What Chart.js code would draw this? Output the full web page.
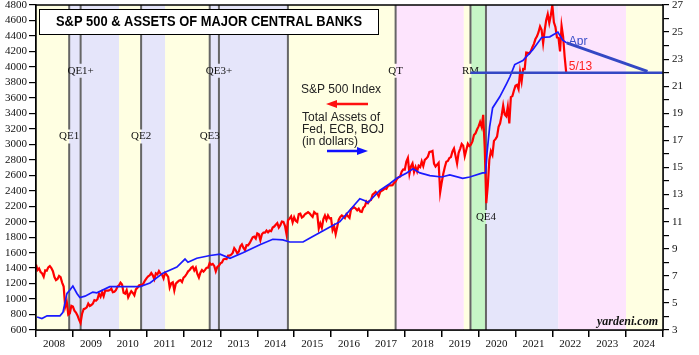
<!DOCTYPE html>
<html>
<head>
<meta charset="utf-8">
<script src="https://cdn.jsdelivr.net/npm/chart.js@4.4.1/dist/chart.umd.min.js"></script>
<style>
html,body{margin:0;padding:0;background:#fff;}
canvas{display:block;}
</style>
</head>
<body>
<canvas id="c" width="699" height="355"></canvas>
<script>
// ---------- DATA ----------
const titleText = "S&P 500 & ASSETS OF MAJOR CENTRAL BANKS";
const yearTicks = ["2008","2009","2010","2011","2012","2013","2014","2015","2016","2017","2018","2019","2020","2021","2022","2023","2024"];

// S&P 500, semi-monthly readings starting Jan 2008
const spxStart = 2008;
const spxPerYear = 24;
const spxValues = [
 1447,1374,1395,1349,1331,1288,1370,1365,1409,1425,1400,1360,1284,1245,1260,1298,1282,1213,1161,900,968,800,816,913,
 903,850,826,789,735,690,811,869,877,893,942,911,923,940,987,979,998,1068,1029,1087,1036,1109,1108,1109,
 1115,1136,1089,1094,1115,1159,1178,1211,1187,1080,1070,1115,1022,1065,1101,1079,1049,1125,1146,1176,1184,1178,1206,1242,
 1271,1293,1307,1336,1306,1257,1332,1319,1361,1330,1315,1267,1339,1316,1286,1150,1204,1216,1110,1200,1218,1236,1244,1219,
 1277,1293,1324,1358,1374,1404,1419,1370,1405,1325,1278,1342,1374,1353,1376,1405,1406,1465,1444,1454,1428,1359,1416,1430,
 1462,1472,1513,1520,1518,1561,1562,1574,1597,1658,1631,1590,1614,1682,1706,1661,1633,1697,1695,1721,1761,1798,1806,1781,
 1848,1838,1760,1838,1859,1858,1885,1862,1884,1877,1924,1937,1960,1981,1925,1955,2003,1998,1946,1840,2018,2039,2068,1990,
 2058,2011,1995,2097,2104,2053,2068,2096,2108,2122,2107,2084,2063,2124,2104,2102,1913,1978,1920,2033,2079,2023,2080,2043,
 2044,1890,1940,1840,1932,2027,2060,2080,2065,2047,2097,2071,2050,2161,2173,2186,2171,2147,2168,2132,2126,2180,2199,2262,
 2239,2270,2279,2349,2364,2385,2363,2328,2384,2400,2412,2432,2423,2459,2470,2468,2472,2500,2519,2557,2575,2585,2648,2676,
 2674,2776,2824,2620,2714,2752,2641,2706,2648,2722,2705,2779,2718,2798,2816,2840,2902,2905,2914,2750,2712,2737,2760,2380,
 2507,2616,2704,2775,2784,2822,2834,2907,2946,2850,2752,2889,2942,3004,2980,2847,2926,3007,2977,2995,3038,3120,3141,3191,
 3231,3289,3226,3380,2954,2240,2470,2800,2912,2864,3044,3066,3100,3226,3271,3373,3500,3385,3363,3483,3270,3610,3622,3695,
 3756,3768,3714,3932,3811,3975,3973,4185,4181,4173,4204,4255,4298,4360,4395,4448,4523,4480,4308,4471,4605,4682,4567,4668,
 4796,4577,4516,4380,4374,4200,4530,4392,4132,3930
];

// Total assets of Fed, ECB, BOJ (trillion dollars)
const bankDates = [2008.03,2008.16,2008.30,2008.65,2008.73,2008.84,2008.92,2009.00,2009.11,2009.19,2009.33,2009.54,2009.65,
 2010.00,2010.28,2010.82,2011.09,2011.44,2011.82,2012.04,2012.12,2012.36,2012.72,2012.99,2013.26,2013.61,2014.07,2014.42,
 2014.69,2014.88,2015.24,2015.43,2015.70,2015.97,2016.24,2016.59,2016.78,2016.92,2017.00,2017.32,2017.59,2017.78,2018.05,
 2018.22,2018.41,2018.68,2019.00,2019.22,2019.57,2019.76,2020.11,2020.19,2020.23,2020.30,2020.38,2020.57,2020.76,2020.85,
 2020.98,2021.20,2021.47,2021.71,2021.93,2022.15,2022.28,2022.39];
const bankValues = [3.96,3.85,4.05,4.05,4.3,5.7,5.95,6.25,5.7,5.4,5.5,5.8,5.75,
 6.2,6.2,6.2,6.47,7.2,7.65,8.24,8.0,8.3,8.5,8.6,8.3,8.7,9.3,9.7,
 9.65,9.5,9.5,9.8,10.2,10.6,11.0,12.1,12.7,12.55,12.4,13.3,13.8,14.2,14.6,
 14.9,14.6,14.4,14.3,14.45,14.2,14.3,14.6,14.6,16.1,18.0,19.4,20.2,21.2,21.7,
 22.6,22.9,23.7,24.6,24.65,25.0,24.4,24.2];

// April projection and reference level (right axis)
const projDates = [2022.39, 2024.58];
const projValues = [24.2, 22.1];
const levelDates = [2019.78, 2025];
const levelValues = [22, 22];

// Policy regimes (background bands)
const bandStarts = [2008.0, 2008.9, 2010.25, 2010.85, 2011.5, 2012.71, 2014.83, 2017.75, 2019.6, 2019.8, 2020.2, 2022.16, 2024.0];
const bandEnds   = [2008.9, 2010.25, 2010.85, 2011.5, 2012.71, 2014.83, 2017.75, 2019.6, 2019.8, 2020.2, 2022.16, 2024.0, 2025.0];
const bandKinds  = ["y","l","y","l","y","l","y","p","y","g","l","p","y"];

// Event lines
const eventDates  = [2008.9, 2009.21, 2010.85, 2012.71, 2012.96, 2014.83, 2017.75, 2019.78, 2020.2];
const eventLabels = ["QE1","QE1+","QE2","QE3","QE3+","","QT","RM","QE4"];
const eventLabelLevels = [3100, 3950, 3100, 3100, 3950, null, 3950, 3950, 2060];

// ---------- STYLE ----------
const bandColors = {y:"#FFFFE2", l:"#E5E5FA", p:"#FDE4FD", g:"#C6F6C6"};
const serif = '"Liberation Serif", "Times New Roman", serif';
const sans = '"Liberation Sans", Arial, sans-serif';

const spxData = spxValues.map((v,i)=>({x: spxStart + i/spxPerYear, y: v}));
const bankData = bankDates.map((d,i)=>({x:d, y:bankValues[i]}));
const projData = projDates.map((d,i)=>({x:d, y:projValues[i]}));
const levelData = levelDates.map((d,i)=>({x:d, y:levelValues[i]}));

const decorPlugin = {
  id: 'decor',
  beforeDatasetsDraw(chart){
    const {ctx, chartArea:{left,right,top,bottom}, scales:{x,y}} = chart;
    ctx.save();
    bandStarts.forEach((s,i)=>{
      const x0 = x.getPixelForValue(s), x1 = x.getPixelForValue(bandEnds[i]);
      ctx.fillStyle = bandColors[bandKinds[i]];
      ctx.fillRect(x0, top, x1-x0, bottom-top);
    });
    ctx.font = '11px ' + serif;
    ctx.textAlign = 'center';
    ctx.textBaseline = 'middle';
    eventDates.forEach((d,i)=>{
      const px = x.getPixelForValue(d);
      ctx.strokeStyle = '#666666';
      ctx.lineWidth = 2;
      ctx.beginPath();
      if (eventLabels[i]) {
        const ly = y.getPixelForValue(eventLabelLevels[i]);
        ctx.moveTo(px, top); ctx.lineTo(px, ly-7);
        ctx.moveTo(px, ly+7); ctx.lineTo(px, bottom);
      } else {
        ctx.moveTo(px, top); ctx.lineTo(px, bottom);
      }
      ctx.stroke();
    });
    ctx.fillStyle = '#111';
    eventDates.forEach((d,i)=>{
      if (!eventLabels[i]) return;
      const px = x.getPixelForValue(d);
      const ly = y.getPixelForValue(eventLabelLevels[i]);
      ctx.fillText(eventLabels[i], px, ly);
    });
    ctx.restore();
  },
  afterDraw(chart){
    const {ctx, chartArea:{left,right,top,bottom}, scales:{x,y,y1}} = chart;
    ctx.save();
    // frame
    ctx.strokeStyle = '#000';
    ctx.lineWidth = 1.5;
    ctx.strokeRect(left, top, right-left, bottom-top);
    // title box
    ctx.fillStyle = '#fff';
    ctx.fillRect(39, 9, 339, 25);
    ctx.strokeStyle = '#000';
    ctx.lineWidth = 1;
    ctx.strokeRect(39.5, 9.5, 339, 25);
    ctx.fillStyle = '#000';
    ctx.font = 'bold 14px ' + sans;
    ctx.textAlign = 'left';
    ctx.textBaseline = 'middle';
    ctx.fillText(titleText, 56, 22.5, 306);
    // legend texts
    ctx.font = '12px ' + sans;
    ctx.fillStyle = '#222';
    ctx.fillText('S&P 500 Index', 301, 90);
    ctx.fillText('Total Assets of', 302, 118);
    ctx.fillText('Fed, ECB, BOJ', 302, 130);
    ctx.fillText('(in dollars)', 302, 142);
    // red arrow (left)
    ctx.strokeStyle = '#ff1010'; ctx.fillStyle = '#ff1010'; ctx.lineWidth = 2.5;
    ctx.beginPath(); ctx.moveTo(368, 104); ctx.lineTo(334, 104); ctx.stroke();
    ctx.beginPath(); ctx.moveTo(326, 104); ctx.lineTo(337, 100); ctx.lineTo(337, 108); ctx.closePath(); ctx.fill();
    // blue arrow (right)
    ctx.strokeStyle = '#1010ff'; ctx.fillStyle = '#1010ff';
    ctx.beginPath(); ctx.moveTo(327, 151); ctx.lineTo(360, 151); ctx.stroke();
    ctx.beginPath(); ctx.moveTo(368, 151); ctx.lineTo(357, 147); ctx.lineTo(357, 155); ctx.closePath(); ctx.fill();
    // Apr / 5/13 annotations
    ctx.font = '12px ' + sans;
    ctx.fillStyle = '#3a4fc8';
    ctx.fillText('Apr', x.getPixelForValue(projDates[0]) + 2, y1.getPixelForValue(projValues[0]) - 1);
    ctx.fillStyle = '#ff2020';
    ctx.fillText('5/13', x.getPixelForValue(projDates[0]) + 2, 67);
    // source
    ctx.font = 'bold italic 12px ' + serif;
    ctx.fillStyle = '#111';
    ctx.textAlign = 'right';
    ctx.fillText('yardeni.com', 658, 322);
    ctx.restore();
  }
};

new Chart(document.getElementById('c'), {
  type: 'line',
  data: {
    datasets: [
      {label:'level', data: levelData, yAxisID:'y1', borderColor:'#3448c4', borderWidth:2.5, pointRadius:0, order:0},
      {label:'proj', data: projData, yAxisID:'y1', borderColor:'#3448c4', borderWidth:3, pointRadius:0, order:1},
      {label:'Total Assets', data: bankData, yAxisID:'y1', borderColor:'#1a1aff', borderWidth:1.7, pointRadius:0, tension:0, order:2},
      {label:'S&P 500', data: spxData, yAxisID:'y', borderColor:'#ff0000', borderWidth:2.2, pointRadius:0, tension:0, order:3}
    ]
  },
  options: {
    responsive: false,
    animation: false,
    devicePixelRatio: 1,
    layout: {padding: {top: 5, left: 0, right: 0, bottom: 0}},
    plugins: {legend:{display:false}, tooltip:{enabled:false}, title:{display:false}},
    scales: {
      x: {
        type: 'linear', min: 2008, max: 2025,
        afterFit(s){ s.height = 25; s.paddingLeft = 0; s.paddingRight = 0; },
        afterBuildTicks(s){ s.ticks = []; for (let i=0;i<=yearTicks.length;i++) s.ticks.push({value: 2008+i}); },
        ticks: {
          callback(v, i){ return yearTicks[i] !== undefined ? yearTicks[i] : ''; },
          font: {family: serif, size: 11}, color: '#111',
          labelOffset: 18, maxRotation: 0, autoSkip: false, padding: 1
        },
        grid: {drawOnChartArea: false, drawTicks: true, tickLength: 7, tickColor: '#000', lineWidth: 1.5},
        border: {display: true, color: '#000', width: 1.5}
      },
      y: {
        position: 'left', min: 600, max: 4800,
        afterFit(s){ s.width = 36; s.paddingTop = 0; s.paddingBottom = 0; },
        ticks: {stepSize: 200, autoSkip: false, font: {family: serif, size: 11}, color: '#111', padding: 2,
          callback(v){ return String(v); }},
        grid: {drawOnChartArea: false, drawTicks: true, tickLength: 7, tickColor: '#000', lineWidth: 1.2},
        border: {display: true, color: '#000', width: 1.5}
      },
      y1: {
        position: 'right', min: 3, max: 27,
        afterFit(s){ s.width = 36; s.paddingTop = 0; s.paddingBottom = 0; },
        ticks: {stepSize: 1, autoSkip: false, font: {family: serif, size: 11}, color: '#111', padding: 3,
          callback(v){ return (v % 2 === 1) ? String(v) : ''; }},
        grid: {drawOnChartArea: false, drawTicks: true, tickLength: 6, tickColor: '#000', lineWidth: 1.2},
        border: {display: true, color: '#000', width: 1.5}
      }
    }
  },
  plugins: [decorPlugin]
});
</script>
</body>
</html>
